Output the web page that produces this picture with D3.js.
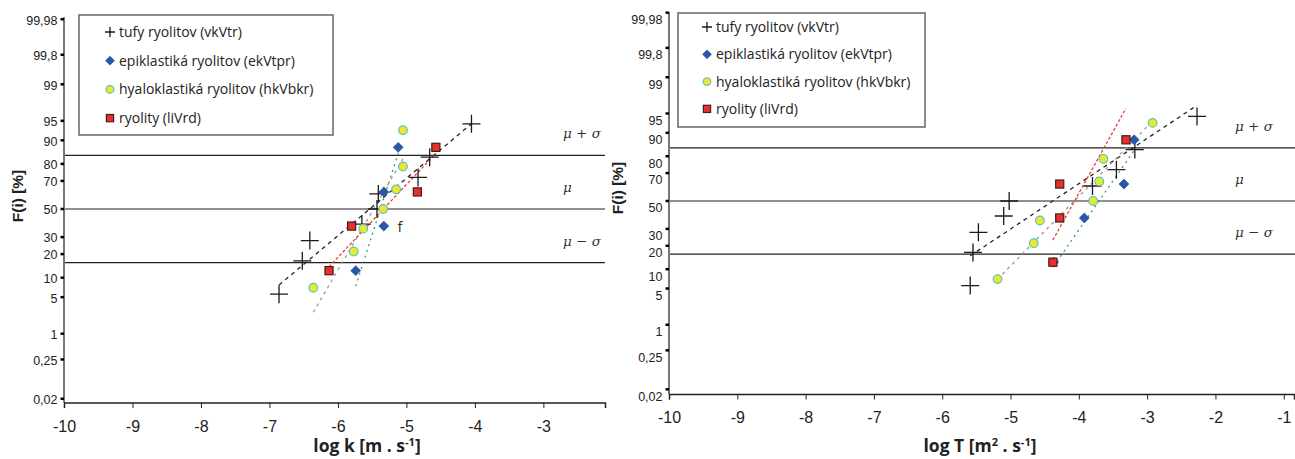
<!DOCTYPE html>
<html>
<head>
<meta charset="utf-8">
<script src="https://cdn.jsdelivr.net/npm/d3@7"></script>
<style>
  body { margin: 0; background: #fff; }
  .ticklab { font-family: "Liberation Sans", Arial, sans-serif; fill: #222; }
  .title { font-family: "Open Sans", "Liberation Sans", sans-serif; font-weight: bold; fill: #222; }
  .legend text { font-family: "Open Sans", sans-serif; font-size: 14px; fill: #222; }
  .mu { font-family: "DejaVu Serif", serif; font-style: italic; font-size: 13.5px; fill: #333; }
</style>
</head>
<body>
<svg id="chart" width="1295" height="459"></svg>
<script>
// probability axis ticks (in %) and their labels
const probTicks  = [0.02, 0.25, 1, 5, 10, 20, 30, 50, 70, 80, 90, 95, 99, 99.8, 99.98];
const probLabels = ["0,02", "0,25", "1", "5", "10", "20", "30", "50", "70", "80", "90", "95", "99", "99,8", "99,98"];

// x ticks
const leftTicks  = [-10, -9, -8, -7, -6, -5, -4, -3];
const rightTicks = [-10, -9, -8, -7, -6, -5, -4, -3, -2, -1];

const seriesNames = ["tufy ryolitov (vkVtr)", "epiklastiká ryolitov (ekVtpr)", "hyaloklastiká ryolitov (hkVbkr)", "ryolity (liVrd)"];

// F(i) in %
const tufyF  = [5.6, 16.7, 27.8, 38.9, 50, 61.1, 72.2, 83.3, 94.4];
const epiF   = [12.5, 37.5, 62.5, 87.5];
const hyaloF = [7.1, 21.4, 35.7, 50, 64.3, 78.6, 92.9];
const ryoF   = [12.5, 37.5, 62.5, 87.5];

// log k [m.s-1]
const tufyK  = [-6.86, -6.52, -6.41, -5.65, -5.43, -5.41, -4.83, -4.66, -4.05];
const epiK   = [-5.74, -5.33, -5.33, -5.12];
const hyaloK = [-6.36, -5.77, -5.63, -5.34, -5.15, -5.05, -5.05];
const ryoK   = [-6.13, -5.80, -4.84, -4.57];

// log T [m2.s-1]
const tufyT  = [-5.59, -5.55, -5.47, -5.10, -5.02, -3.80, -3.45, -3.18, -2.27];
const epiT   = [-4.37, -3.92, -3.34, -3.19];
const hyaloT = [-5.19, -4.66, -4.57, -3.79, -3.70, -3.64, -2.92];
const ryoT   = [-4.38, -4.28, -4.28, -3.31];

// reference lines mu-sigma, mu, mu+sigma (in sigma units)
const refLines  = [-1, 0, 1];
const refLabels = ["\u03bc \u2212 \u03c3", "\u03bc", "\u03bc + \u03c3"];

// inverse of the standard normal cdf (Acklam's approximation)
function probit(p) {
    var a = [-39.69683028665376, 220.9460984245205, -275.9285104469687, 138.3577518672690, -30.66479806614716, 2.506628277459239];
    var b = [-54.47609879822406, 161.5858368580409, -155.6989798598866, 66.80131188771972, -13.28068155211977];
    var c = [-7.784894002430293e-03, -0.3223964580411365, -2.400758277161838, -2.549732539343734, 4.374664141464968, 2.938163982698783];
    var d = [7.784695709041462e-03, 0.3224671290700398, 2.445134137142996, 3.754408661907416];
    var q, r;
    if (p < 0.02425) {
        q = Math.sqrt(-2 * Math.log(p));
        return (((((c[0]*q+c[1])*q+c[2])*q+c[3])*q+c[4])*q+c[5]) / ((((d[0]*q+d[1])*q+d[2])*q+d[3])*q+1);
    }
    if (p <= 1 - 0.02425) {
        q = p - 0.5; r = q * q;
        return (((((a[0]*r+a[1])*r+a[2])*r+a[3])*r+a[4])*r+a[5])*q / (((((b[0]*r+b[1])*r+b[2])*r+b[3])*r+b[4])*r+1);
    }
    q = Math.sqrt(-2 * Math.log(1 - p));
    return -(((((c[0]*q+c[1])*q+c[2])*q+c[3])*q+c[4])*q+c[5]) / ((((d[0]*q+d[1])*q+d[2])*q+d[3])*q+1);
}

// least squares of x on z, drawn over the x range of the data
function fitLine(xs, ps) {
    let zs = ps.map(p => probit(p / 100));
    let mx = d3.mean(xs), mz = d3.mean(zs);
    let sxz = d3.sum(xs, (x, i) => (x - mx) * (zs[i] - mz));
    let szz = d3.sum(zs, z => (z - mz) * (z - mz));
    let b = sxz / szz;
    let x0 = d3.min(xs), x1 = d3.max(xs);
    return [[x0, mz + (x0 - mx) / b], [x1, mz + (x1 - mx) / b]];
}

const styles = [
    { color: "#222", dash: "4,4", marker: "plus" },
    { color: "#3a9a6a", dash: "2,4", marker: "diamond" },
    { color: "#9a9a9a", dash: "3,4", marker: "circle" },
    { color: "#e8403a", dash: "3,2", marker: "square" }
];

const panels = [
    { xDomain: [-10, -2.1], xRange: [64, 605], yMid: 209, ySig: 53.6, top: 17, bottom: 402.6,
      ticks: leftTicks, labDy: 1, lineEnd: 605,
      series: [[tufyK, tufyF], [epiK, epiF], [hyaloK, hyaloF], [ryoK, ryoF]],
      legend: { x: 79, y: 15, w: 254, h: 120, step: 28.7, first: 32, mx: 110 },
      muX: 563, yTitle: [23, 196], xTitleX: 367 },
    { xDomain: [-10, -0.85], xRange: [669, 1294], yMid: 201, ySig: 53.2, top: 12, bottom: 394,
      ticks: rightTicks, labDy: 7, lineEnd: 1295,
      series: [[tufyT, tufyF], [epiT, epiF], [hyaloT, hyaloF], [ryoT, ryoF]],
      legend: { x: 678, y: 13, w: 247, h: 114, step: 27.3, first: 27, mx: 707 },
      muX: 1235, yTitle: [623, 188], xTitleX: 980 }
];

let svg = d3.select("#chart");

function drawMarker(g, type, cx, cy, size) {
    if (type === "plus") {
        let h = size;
        g.append("path").attr("d", `M${cx - h},${cy}H${cx + h}M${cx},${cy - h}V${cy + h}`)
            .attr("stroke", "#1a1a1a").attr("stroke-width", 1.3).attr("fill", "none");
    } else if (type === "diamond") {
        let h = size * 0.55;
        g.append("path").attr("d", `M${cx},${cy - h}L${cx + h},${cy}L${cx},${cy + h}L${cx - h},${cy}Z`)
            .attr("fill", "#2a58a6").attr("stroke", "#2a58a6").attr("stroke-width", 0.8);
    } else if (type === "circle") {
        g.append("circle").attr("cx", cx).attr("cy", cy).attr("r", size * 0.48)
            .attr("fill", "#f0e62c").attr("stroke", "#52c4c8").attr("stroke-width", 1.2);
    } else {
        let h = size * 0.45;
        g.append("rect").attr("x", cx - h).attr("y", cy - h).attr("width", 2 * h).attr("height", 2 * h)
            .attr("fill", "#e8302b").attr("stroke", "#4a1a1a").attr("stroke-width", 1.2);
    }
}

function renderPanel(P, idx) {
    let x = d3.scaleLinear().domain(P.xDomain).range(P.xRange);
    let y = d3.scaleLinear().domain([-1, 1]).range([P.yMid + P.ySig, P.yMid - P.ySig]);
    let g = svg.append("g").attr("class", "panel" + idx);
    let ax = P.xRange[0];

    // reference lines
    g.selectAll(".ref").data(refLines).enter().append("line")
        .attr("x1", ax).attr("x2", P.lineEnd)
        .attr("y1", d => y(d)).attr("y2", d => y(d))
        .attr("stroke", "#222").attr("stroke-width", 1.2);

    g.selectAll(".mu").data(refLines).enter().append("text")
        .attr("class", "mu")
        .attr("x", P.muX).attr("y", d => y(d) - 17)
        .text((d, i) => refLabels[i]);

    // y axis (probability)
    g.append("line").attr("x1", ax).attr("x2", ax).attr("y1", P.top).attr("y2", P.bottom)
        .attr("stroke", "#777").attr("stroke-width", 2);
    g.selectAll(".yt").data(probTicks).enter().append("line")
        .attr("x1", ax - 3.5).attr("x2", ax)
        .attr("y1", d => y(probit(d / 100))).attr("y2", d => y(probit(d / 100)))
        .attr("stroke", "#000").attr("stroke-width", 2.5);
    g.selectAll(".yl").data(probTicks).enter().append("text")
        .attr("class", "ticklab")
        .attr("x", ax - 6.5).attr("y", d => y(probit(d / 100)) + P.labDy)
        .attr("dy", "0.35em").attr("text-anchor", "end")
        .style("font-size", "12.5px")
        .text((d, i) => probLabels[i]);

    // x axis with minor ticks every 0.1
    let minor = d3.range(P.xDomain[0] * 10, P.xDomain[1] * 10 + 0.01).map(v => v / 10);
    let xa = g.append("g").attr("transform", "translate(0," + P.bottom + ")");
    xa.call(d3.axisBottom(x).tickValues(minor).tickSize(3.5).tickFormat(""));
    xa.call(d3.axisBottom(x).tickValues(P.ticks).tickSize(5.5).tickFormat(d3.format("d")));
    xa.selectAll(".domain").attr("stroke", "#222").attr("stroke-width", 1.5);
    xa.selectAll("line").attr("stroke", "#222").attr("stroke-width", 1);
    xa.selectAll("text").attr("class", "ticklab").style("font-size", "16px").attr("dy", "1.3em")
        .text(d => d3.format("d")(d).replace("\u2212", "-"));

    // axis titles
    g.append("text").attr("class", "title")
        .attr("transform", `translate(${P.yTitle[0]},${P.yTitle[1]}) rotate(-90)`)
        .attr("text-anchor", "middle").style("font-size", "15.5px")
        .style("font-family", "'Liberation Sans', Arial, sans-serif")
        .text("F(i) [%]");

    let xt = g.append("text").attr("class", "title")
        .attr("x", P.xTitleX).attr("y", 452).attr("text-anchor", "middle").style("font-size", "17.5px");
    if (idx === 0) {
        xt.append("tspan").text("log k [m . s");
    } else {
        xt.append("tspan").text("log T [m");
        xt.append("tspan").attr("dy", -6).style("font-size", "11px").text("2");
        xt.append("tspan").attr("dy", 6).text(" . s");
    }
    xt.append("tspan").attr("dy", -6).style("font-size", "11px").text("-1");
    xt.append("tspan").attr("dy", 6).text("]");

    // fit lines
    P.series.forEach(function(s, i) {
        let ln = fitLine(s[0], s[1]);
        g.append("line")
            .attr("x1", x(ln[0][0])).attr("y1", y(ln[0][1]))
            .attr("x2", x(ln[1][0])).attr("y2", y(ln[1][1]))
            .attr("stroke", styles[i].color).attr("stroke-width", 1.3)
            .attr("stroke-dasharray", styles[i].dash);
    });

    // points
    P.series.forEach(function(s, i) {
        let pg = g.append("g");
        s[0].forEach(function(v, j) {
            drawMarker(pg, styles[i].marker, x(v), y(probit(s[1][j] / 100)), 9);
        });
    });

    // stray label in the left panel
    if (idx === 0) {
        g.append("text").attr("x", x(-5.13)).attr("y", y(probit(0.375)) + 6)
            .style("font-family", "'Open Sans', sans-serif").style("font-size", "15px").attr("fill", "#333")
            .text("f");
    }

    // legend
    let L = P.legend;
    let lg = g.append("g").attr("class", "legend");
    lg.append("rect").attr("x", L.x).attr("y", L.y).attr("width", L.w).attr("height", L.h)
        .attr("fill", "#fff").attr("stroke", "#666").attr("stroke-width", 1.5);
    seriesNames.forEach(function(name, i) {
        let cy = L.first + i * L.step;
        drawMarker(lg, styles[i].marker, L.mx, cy, i === 0 ? 5 : 8);
        lg.append("text").attr("x", L.mx + 9).attr("y", cy).attr("dy", "0.35em").text(name);
    });
}

panels.forEach(renderPanel);
</script>
</body>
</html>
